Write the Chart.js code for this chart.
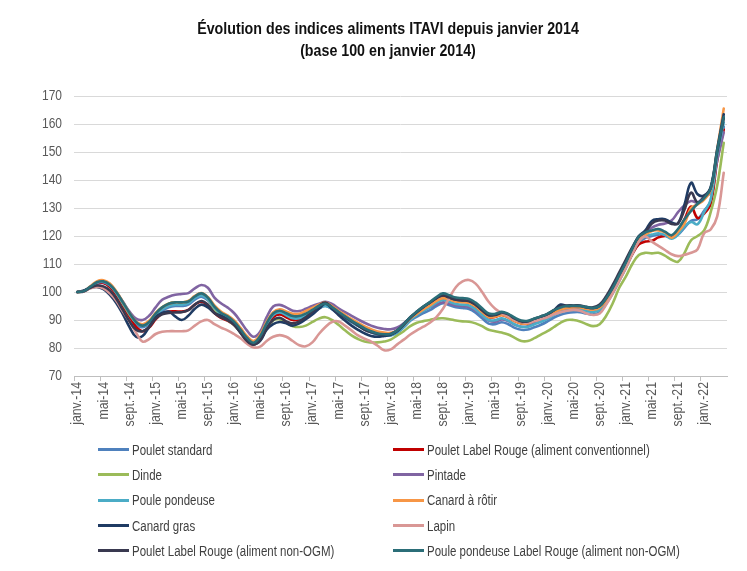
<!DOCTYPE html>
<html lang="fr">
<head>
<meta charset="utf-8">
<title>Évolution des indices aliments ITAVI</title>
<script src="https://cdn.jsdelivr.net/npm/chart.js@4.4.1/dist/chart.umd.min.js"></script>
<style>
    html, body { margin: 0; padding: 0; background: #fff; }
    #wrap {
        position: relative; width: 747px; height: 571px; overflow: hidden;
        font-family: "Liberation Sans", Arial, sans-serif;
    }
    #graph { position: absolute; left: 0; top: 0; }
    #titre {
        position: absolute; left: 0; top: 18px; width: 776px; text-align: center;
        font-weight: bold; font-size: 16px; line-height: 22px; color: #111;
        transform: scaleX(0.89); transform-origin: 388px 0;
    }
    #legende {
        position: absolute; left: 98px; top: 437px;
        display: grid; grid-template-columns: 295px 300px;
    }
    .item { height: 25.3px; display: flex; align-items: center; font-size: 14px; color: #404040; white-space: nowrap; }
    .trait { flex: 0 0 31px; height: 3px; margin-right: 3px; }
    .txt { display: inline-block; transform: scaleX(0.82); transform-origin: left center; }
</style>
</head>
<body>
<div id="wrap">
    <canvas id="graph" width="747" height="571"></canvas>
    <div id="titre">Évolution des indices aliments ITAVI depuis janvier 2014<br>(base 100 en janvier 2014)</div>
    <div id="legende"></div>
</div>
<script>
// Categories (mois, janv. 2014 -> avr. 2022)
const moisCourts = ["janv.", "févr.", "mars", "avr.", "mai", "juin", "juil.", "août", "sept.", "oct.", "nov.", "déc."];
const annees = ["14", "15", "16", "17", "18", "19", "20", "21", "22"];
const nbMois = 100;
const categories = [];
for (let i = 0; i < nbMois; i++) {
    categories.push(moisCourts[i % 12] + "-" + annees[Math.floor(i / 12)]);
}

// Axe des valeurs
const yMin = 70;
const yMax = 170;
const yPas = 10;

// Series (indice base 100 en janvier 2014)
const pouletStandard = [
    100, 100.2, 101.6, 103, 103.3, 102, 99.2, 95.5, 91.6, 88.6, 87.4, 88.6,
    91.3, 93.3, 94.5, 95, 95, 95.5, 97.3, 98.3, 97, 94, 91.8, 90.5,
    88.9, 86.2, 83.2, 81.5, 83.7, 88.2, 91.7, 92.7, 91.7, 90.7, 90.7, 91.7,
    92.7, 94.1, 95, 93.9, 92.2, 90.7, 89.2, 87.9, 86.6, 85.6, 84.8, 84.4,
    84.5, 85.5, 87.4, 89.7, 91.2, 92.5, 93.5, 95, 96, 95.3, 94.6, 94.3,
    93.9, 92.6, 90.6, 88.7, 88.5, 89.2, 88.5, 87.2, 86.5, 86.6, 87.4, 88.3,
    89.5, 90.9, 91.9, 92.5, 92.8, 92.8, 92.3, 92, 92.8, 95.8, 99.5, 104,
    108.5, 113.5, 117.5, 119.3, 120, 120.5, 120.3, 119.5, 120.5, 123, 125.4, 126,
    129, 132.5, 148, 159,
];
const pouletLabelRouge = [
    100, 100.3, 101.7, 103, 103.2, 101.8, 98.8, 95, 91, 87.5, 86, 87.3,
    90.2, 92.3, 93, 93.1, 93, 93.6, 95.5, 96.5, 95.2, 92.5, 90.8, 89.8,
    88.3, 85.8, 83, 81.5, 83.3, 87.5, 91, 92, 91, 90, 90.2, 91.3,
    92.8, 94.3, 95.3, 94.2, 92.5, 91, 89.6, 88.3, 87, 86, 85.2, 84.8,
    84.9, 86, 88.2, 90.8, 92.7, 94.4, 96, 97.8, 98.8, 97.6, 96.8, 96.5,
    96.2, 94.8, 92.8, 91, 91.1, 91.8, 91, 89.6, 88.8, 88.8, 89.6, 90.4,
    91.3, 92.6, 93.6, 94.2, 94.4, 94.4, 93.9, 93.6, 94.2, 96.8, 100.2, 104.6,
    109, 113.5, 117, 118, 118.3, 119.5, 120, 119.8, 122, 126, 130.5, 126.4,
    128, 131.5, 147, 158,
];
const dinde = [
    100, 100.3, 101.8, 103.5, 103.8, 102.5, 99.6, 95.8, 92, 89.2, 88.2, 89.5,
    92.3, 94.5, 95.8, 96.3, 96.3, 96.6, 98.2, 99, 97.5, 94, 91.5, 90,
    88.3, 85.5, 82.6, 81.2, 83, 87, 89.8, 90.3, 89, 87.8, 87.5, 88,
    89.3, 90.5, 91, 90, 88.3, 86.3, 84.5, 83.2, 82.3, 82, 82, 82.3,
    83, 84.5, 86, 87.8, 89, 89.6, 90, 90.5, 90.6, 90.3, 89.8, 89.5,
    89.4, 88.8, 87.8, 86.5, 86, 85.5, 84.8, 83.6, 82.5, 82.5, 83.5, 84.8,
    86, 87.5, 89, 90, 90, 89.5, 88.5, 87.8, 88.5, 91.5, 96, 101.5,
    105.5, 110, 113.2, 114, 113.8, 114, 113, 111.5, 110.8, 114, 118.5, 120,
    122, 128.5, 138, 153.3,
];
const pintade = [
    100, 100.4, 101.8, 103.2, 103.5, 102.4, 99.8, 96.5, 93, 90.5, 90, 91.5,
    94.5, 97.2, 98.3, 99, 99.3, 99.6, 101.3, 102.5, 101.5, 98, 96, 94.5,
    92.5, 89.5, 86.2, 84, 85.8, 91, 94.8, 95.4, 94.5, 93.3, 93.2, 94,
    95, 95.8, 96.5, 95.7, 94.2, 92.8, 91.5, 90.2, 89, 88, 87.2, 86.8,
    86.7, 87.3, 88.8, 90.8, 92.3, 93.5, 94.5, 95.5, 96.3, 95.8, 95.2, 95,
    94.6, 93.4, 91.6, 89.8, 89.4, 90.2, 89.6, 88.3, 87.6, 87.8, 88.8, 89.8,
    91, 92.4, 93.5, 94.1, 94.4, 94.4, 94, 93.7, 94.3, 97, 100.6, 105.2,
    109.8, 114.8, 118.5, 121, 123, 124, 124.5, 125.5, 128.5, 131, 132.5, 132,
    134, 135.5, 147, 157,
];
const poulePondeuse = [
    100, 100.3, 101.8, 103.4, 103.7, 102.4, 99.6, 95.9, 92.1, 89.1, 87.9, 89,
    91.8, 93.8, 95, 95.5, 95.5, 96, 97.8, 98.8, 97.5, 94.4, 92.2, 90.9,
    89.1, 86.4, 83.4, 81.7, 84, 88.4, 91.8, 92.7, 91.7, 90.6, 90.6, 91.6,
    92.8, 94.2, 95, 94, 92.3, 90.8, 89.3, 88, 86.7, 85.7, 85, 84.6,
    84.6, 85.6, 87.6, 90, 91.8, 93.3, 94.6, 96.2, 97.2, 96.5, 95.7, 95.5,
    95.2, 93.8, 91.8, 90, 89.9, 90.6, 89.8, 88.4, 87.6, 87.6, 88.5, 89.4,
    90.4, 91.8, 92.8, 93.4, 93.6, 93.6, 93.2, 92.9, 93.6, 96.4, 100, 104.4,
    109, 114, 118, 120, 120.5, 121, 120.3, 119, 120.5, 123.5, 125, 124.2,
    128.5, 133, 149, 160.5,
];
const canardRotir = [
    100, 100.3, 102, 103.8, 104.2, 103, 100.2, 96.4, 92.5, 89.5, 88.5, 89.7,
    92.5, 94.5, 95.8, 96.3, 96.3, 96.8, 98.6, 99.6, 98.2, 95.2, 93, 91.7,
    89.9, 87.2, 84.2, 82.5, 84.8, 89.3, 92.8, 93.8, 93, 92.2, 92.2, 93.2,
    94.3, 95.5, 96.2, 95, 93.3, 91.8, 90.3, 89, 87.7, 86.7, 85.9, 85.5,
    85.4, 86.3, 88.2, 90.5, 92.2, 93.8, 95.2, 96.8, 97.8, 97.3, 96.6, 96.4,
    96.2, 94.9, 92.9, 91.1, 91.2, 91.8, 91, 89.6, 88.8, 88.8, 89.7, 90.5,
    91.4, 92.7, 93.7, 94.3, 94.5, 94.5, 94, 93.7, 94.4, 97, 100.5, 105,
    109.5, 114.5, 118.5, 120.5, 121.8, 122, 121.3, 119.4, 121.5, 124.5, 130, 131.3,
    133, 136.5, 151, 165.5,
];
const canardGras = [
    100, 100.5, 101.5, 101.8, 101, 99, 96, 92, 87.5, 84, 84.3, 87.5,
    91, 92.5, 93, 91.3, 90, 91.5, 94, 95.5, 94.5, 92.5, 91.5, 90.3,
    88.5, 85.5, 82.5, 81.3, 82.5, 86.5, 88.5, 89.3, 88.8, 88, 88.8, 90.3,
    92, 94, 95.8, 94, 91.8, 89.8, 88, 86.5, 85.2, 84.3, 84, 84.3,
    84.7, 86, 88.3, 90.8, 92.8, 94.6, 96.2, 97.8, 99, 98, 97.2, 97,
    96.8, 95.5, 93.5, 91.7, 91.8, 92.5, 91.7, 90.3, 89.3, 89.3, 90.2, 91,
    92, 93.5, 95.5, 95, 95, 95, 94.5, 94.2, 95, 97.8, 101.5, 106,
    110.5, 115.5, 120, 122, 125.4, 126, 126, 124.8, 124.5, 131.3, 139, 134.9,
    134.5, 137.5, 151, 163.5,
];
const lapin = [
    100, 100.2, 101.3, 101.8, 101.3, 99.5, 96.8, 93, 89.5, 85.5, 82.3, 83.2,
    85, 85.8, 86, 86, 86, 86.3, 88, 89.5, 90, 88.5, 87.3, 86.3,
    85, 83.5, 81.5, 80.2, 80.5, 82.5, 84, 84.6, 84, 82.5, 81, 80.6,
    82, 85, 87.5, 89.3, 89.5, 88, 86.3, 84.5, 83.3, 82.3, 80.8, 79.2,
    79.5, 81.3, 83, 84.8, 86.3, 87.6, 89, 91, 94, 98, 101.8, 103.8,
    104.3, 103, 100, 96.5, 94, 92.5, 91.3, 90, 89.3, 89, 89.6, 90.3,
    91, 92, 92.8, 93.3, 93.6, 93.3, 92.3, 91.8, 92.3, 95.5, 99.5, 104,
    108.5, 113.5, 118, 119.8, 118, 116.5, 115, 113.5, 112.8, 113.3, 114, 115.3,
    121, 122.3, 127, 142.6,
];
const pouletLabelRougeNonOgm = [
    100, 100.3, 101.5, 102.3, 102, 100.5, 97.5, 93.5, 89.5, 86.5, 86, 87.5,
    90.5, 92, 92.5, 92.7, 92.8, 93.5, 95.5, 96.8, 95.5, 92.5, 91, 90,
    88.3, 85.5, 82.5, 81.2, 82.8, 87, 90, 90.8, 89.5, 88.8, 89.5, 91,
    93, 95, 96.2, 94.5, 92.5, 91, 89.5, 88, 86.5, 85.6, 85, 84.8,
    85, 86.3, 88.5, 91, 93, 94.8, 96.3, 97.8, 98.8, 98, 97.3, 97,
    96.8, 95.5, 93.5, 91.8, 92, 92.7, 92, 90.5, 89.5, 89.5, 90.5, 91.3,
    92.2, 93.5, 94.8, 95.2, 95.2, 95.2, 94.7, 94.5, 95.5, 98.5, 102.5, 107,
    111.5, 116, 119.8, 121.5, 124.5, 125.5, 125.5, 124.3, 124.5, 129.5, 135.5, 132,
    134, 137, 150, 162,
];
const poulePondeuseLabelRouge = [
    100, 100.3, 101.9, 103.5, 103.8, 102.6, 99.9, 96.3, 92.5, 89.3, 88, 89.3,
    92.3, 94.5, 95.8, 96.3, 96.3, 96.6, 98.4, 99.5, 98, 94.8, 92.6, 91.3,
    89.4, 86.6, 83.6, 81.9, 84.2, 88.8, 92.3, 93.3, 92.4, 91.4, 91.4, 92.3,
    93.6, 95, 95.8, 94.6, 92.9, 91.3, 89.8, 88.4, 87, 86, 85.2, 84.9,
    85, 86.3, 88.5, 91, 93, 94.8, 96.4, 98.2, 99.5, 98.8, 98, 97.8,
    97.5, 96.2, 94.2, 92.3, 92.2, 92.9, 92.2, 90.8, 89.8, 89.7, 90.5, 91.3,
    92.2, 93.5, 94.5, 95, 95.1, 95, 94.6, 94.3, 95, 97.8, 101.5, 106,
    110.5, 115.5, 119.8, 121.3, 122, 122.5, 121.5, 120.3, 122.5, 126, 129, 131.5,
    133.5, 137, 150.5, 162.5,
];

const series = [
    { label: "Poulet standard", data: pouletStandard, color: "#4f81bd" },
    { label: "Poulet Label Rouge (aliment conventionnel)", data: pouletLabelRouge, color: "#c00000" },
    { label: "Dinde", data: dinde, color: "#9bbb59" },
    { label: "Pintade", data: pintade, color: "#8064a2" },
    { label: "Poule pondeuse", data: poulePondeuse, color: "#4bacc6" },
    { label: "Canard à rôtir", data: canardRotir, color: "#f79646" },
    { label: "Canard gras", data: canardGras, color: "#1f3b63" },
    { label: "Lapin", data: lapin, color: "#d99795" },
    { label: "Poulet Label Rouge (aliment non-OGM)", data: pouletLabelRougeNonOgm, color: "#393950" },
    { label: "Poule pondeuse Label Rouge (aliment non-OGM)", data: poulePondeuseLabelRouge, color: "#2b6e78" },
];

const police = '"Liberation Sans", Arial, sans-serif';

// Etiquettes d'axes en style "narrow" (texte compressé horizontalement)
const etiquettesEtroites = {
    id: "etiquettesEtroites",
    afterDraw(chart) {
        const { ctx } = chart;
        const x = chart.scales.x;
        const y = chart.scales.y;
        ctx.save();
        ctx.fillStyle = "#595959";
        ctx.font = "15px " + police;

        // axe Y
        ctx.textAlign = "right";
        ctx.textBaseline = "middle";
        y.ticks.forEach((t) => {
            ctx.save();
            ctx.translate(y.right - 12, y.getPixelForValue(t.value));
            ctx.scale(0.8, 1);
            ctx.fillText(String(t.value), 0, 0);
            ctx.restore();
        });

        // axe X (une etiquette tous les 4 mois)
        ctx.font = "15px " + police;
        categories.forEach((lab, i) => {
            if (i % 4 !== 0) return;
            ctx.save();
            ctx.translate(x.getPixelForValue(i), x.top + 6);
            ctx.rotate(-Math.PI / 2);
            ctx.scale(0.82, 1);
            ctx.textAlign = "right";
            ctx.textBaseline = "middle";
            ctx.fillText(lab, 0, 0);
            ctx.restore();
        });
        ctx.restore();
    },
};

const ctx = document.getElementById("graph").getContext("2d");
const chart = new Chart(ctx, {
    type: "line",
    data: {
        labels: categories,
        datasets: series.map((s, i) => ({
            label: s.label,
            data: s.data,
            borderColor: s.color,
            backgroundColor: s.color,
            borderWidth: 2.6,
            borderJoinStyle: "round",
            borderCapStyle: "round",
            tension: 0.4,
            pointRadius: 0,
            fill: false,
            order: series.length - i,
        })),
    },
    options: {
        responsive: false,
        devicePixelRatio: 1,
        animation: false,
        layout: {
            padding: { left: 30, right: 20, top: 96, bottom: 135 },
        },
        plugins: {
            legend: { display: false },
            title: { display: false },
            tooltip: { enabled: false },
        },
        scales: {
            x: {
                type: "category",
                offset: true,
                afterFit: (scale) => {
                    scale.height = 60;
                },
                grid: {
                    offset: true,
                    drawOnChartArea: false,
                    drawTicks: true,
                    tickLength: 5,
                    color: (c) => (c.index % 4 === 0 ? "#bfbfbf" : "rgba(0,0,0,0)"),
                },
                border: { display: true, color: "#bfbfbf", width: 1 },
                ticks: {
                    display: false,
                    autoSkip: false,
                },
            },
            y: {
                min: yMin,
                max: yMax,
                afterFit: (scale) => {
                    scale.width = 44;
                },
                grid: {
                    color: "#d9d9d9",
                    drawTicks: false,
                },
                border: { display: false },
                ticks: {
                    display: false,
                    stepSize: yPas,
                },
            },
        },
    },
    plugins: [etiquettesEtroites],
});

// Legende HTML en deux colonnes
const legende = document.getElementById("legende");
chart.data.datasets.forEach((ds) => {
    const item = document.createElement("div");
    item.className = "item";
    item.innerHTML = `<span class="trait" style="background:${ds.borderColor}"></span><span class="txt">${ds.label}</span>`;
    legende.appendChild(item);
});
</script>
</body>
</html>
